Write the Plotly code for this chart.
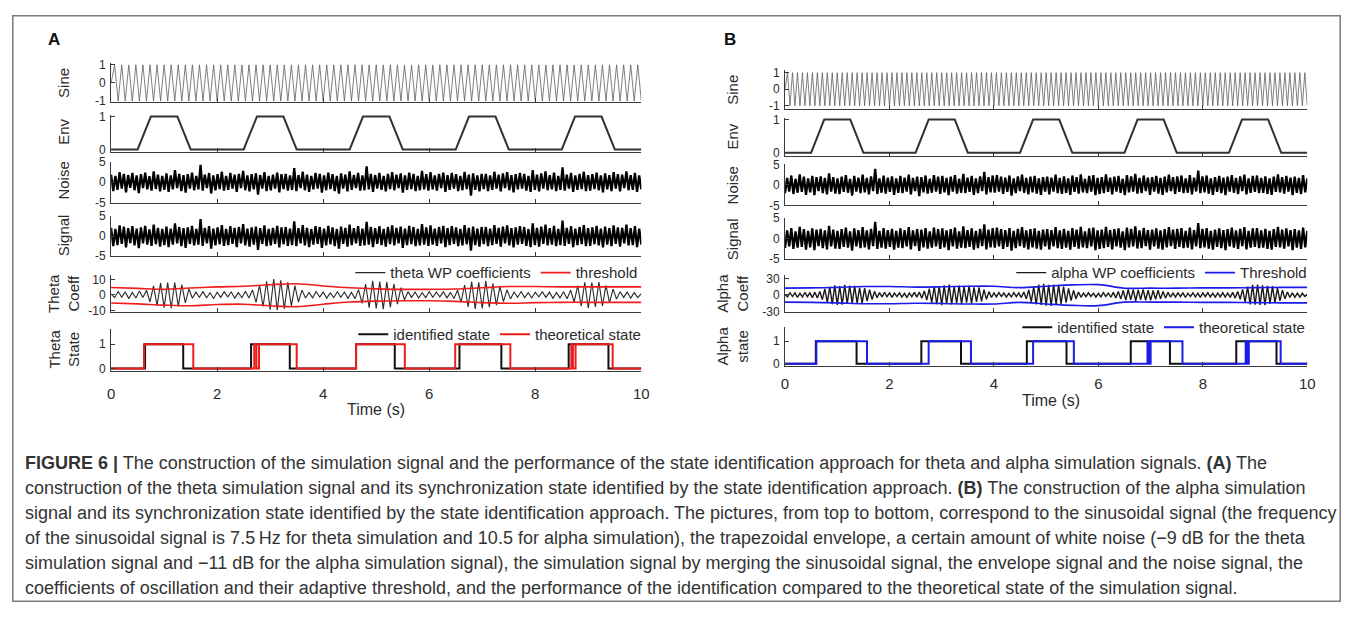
import numpy as np
import plotly.graph_objects as go

# page is 1357x617; the html body keeps an 8px margin, so the figure itself is smaller
PAGE_OFF = 8
W, H = 1341, 601

# ---- data ---------------------------------------------------------------

# sine carriers: successive peaks / troughs (A: 7.5 Hz, B: 10.5 Hz)
SINE_A = [0,
    1, -1, 1, -1, 1, -1, 1, -1, 1, -1, 1, -1, 1, -1, 1, -1, 1, -1, 1, -1,
    1, -1, 1, -1, 1, -1, 1, -1, 1, -1, 1, -1, 1, -1, 1, -1, 1, -1, 1, -1,
    1, -1, 1, -1, 1, -1, 1, -1, 1, -1, 1, -1, 1, -1, 1, -1, 1, -1, 1, -1,
    1, -1, 1, -1, 1, -1, 1, -1, 1, -1, 1, -1, 1, -1, 1, -1, 1, -1, 1, -1,
    1, -1, 1, -1, 1, -1, 1, -1, 1, -1, 1, -1, 1, -1, 1, -1, 1, -1, 1, -1,
    1, -1, 1, -1, 1, -1, 1, -1, 1, -1, 1, -1, 1, -1, 1, -1, 1, -1, 1, -1,
    1, -1, 1, -1, 1, -1, 1, -1, 1, -1, 1, -1, 1, -1, 1, -1, 1, -1, 1, -1,
    1, -1, 1, -1, 1, -1, 1, -1, 1, -1]
SINE_B = [0,
    1, -1, 1, -1, 1, -1, 1, -1, 1, -1, 1, -1, 1, -1, 1, -1, 1, -1, 1, -1,
    1, -1, 1, -1, 1, -1, 1, -1, 1, -1, 1, -1, 1, -1, 1, -1, 1, -1, 1, -1,
    1, -1, 1, -1, 1, -1, 1, -1, 1, -1, 1, -1, 1, -1, 1, -1, 1, -1, 1, -1,
    1, -1, 1, -1, 1, -1, 1, -1, 1, -1, 1, -1, 1, -1, 1, -1, 1, -1, 1, -1,
    1, -1, 1, -1, 1, -1, 1, -1, 1, -1, 1, -1, 1, -1, 1, -1, 1, -1, 1, -1,
    1, -1, 1, -1, 1, -1, 1, -1, 1, -1, 1, -1, 1, -1, 1, -1, 1, -1, 1, -1,
    1, -1, 1, -1, 1, -1, 1, -1, 1, -1, 1, -1, 1, -1, 1, -1, 1, -1, 1, -1,
    1, -1, 1, -1, 1, -1, 1, -1, 1, -1, 1, -1, 1, -1, 1, -1, 1, -1, 1, -1,
    1, -1, 1, -1, 1, -1, 1, -1, 1, -1, 1, -1, 1, -1, 1, -1, 1, -1, 1, -1,
    1, -1, 1, -1, 1, -1, 1, -1, 1, -1, 1, -1, 1, -1, 1, -1, 1, -1, 1, -1,
    1, -1, 1, -1, 1, -1, 1, -1, 1, -1]

# trapezoidal envelope (corner points)
ENV_T = [0, 0.5, 0.75, 1.25, 1.5, 2.5, 2.75, 3.25, 3.5, 4.5, 4.75, 5.25, 5.5,
         6.5, 6.75, 7.25, 7.5, 8.5, 8.75, 9.25, 9.5, 10]
ENV_V = [0, 0, 1, 1, 0, 0, 1, 1, 0, 0, 1, 1, 0, 0, 1, 1, 0, 0, 1, 1, 0, 0]

# white noise and merged signal, local extremes
NOISE_A = [
    1.8, -2.2, 1.5, -1.9, 2.4, -1.6, 2.0, -2.5, 1.7, -1.4, 2.2, -2.0, 1.6, -2.7, 1.9, -1.5, 2.3, -1.8, 1.4, -2.1, 2.6, -1.7, 1.8, -2.3, 1.5,
    -1.9, 2.1, -2.4, 1.6, -1.8, 2.9, -1.5, 2.0, -2.2, 1.7, -2.6, 1.9, -1.6, 2.3, -2.0, 1.5, -1.8, 4.2, -2.1, 1.8, -1.5, 2.2, -2.8, 1.6, -2.0,
    1.9, -1.7, 2.5, -2.1, 1.5, -1.9, 2.2, -1.6, 1.8, -2.4, 2.0, -1.5, 2.7, -2.0, 1.6, -2.3, 1.9, -1.8, 2.1, -3.1, 1.7, -1.6, 2.4, -2.2, 1.5,
    -2.0, 1.8, -1.6, 2.3, -2.5, 1.9, -1.7, 2.0, -2.1, 1.6, -1.9, 3.4, -2.2, 1.7, -1.5, 2.5, -2.0, 1.8, -2.4, 1.5, -1.8, 2.2, -1.6, 2.0, -2.6,
    1.6, -2.0, 2.3, -1.7, 1.9, -2.2, 1.5, -2.8, 2.1, -1.6, 1.8, -2.3, 2.6, -1.9, 1.7, -1.5, 2.2, -2.1, 1.6, -2.0, 3.8, -1.8, 2.0, -2.4, 1.7,
    -1.6, 2.2, -1.9, 1.5, -2.3, 2.0, -1.7, 2.4, -2.0, 1.8, -1.5, 2.1, -2.6, 1.6, -1.9, 2.3, -1.7, 2.0, -2.2, 1.5, -2.0, 2.7, -1.8, 1.9, -2.1,
    2.4, -1.8, 1.6, -2.1, 2.0, -1.5, 2.3, -2.4, 1.7, -1.9, 2.2, -1.6, 1.9, -2.2, 1.5, -2.0, 2.5, -1.7, 1.8, -3.3, 2.1, -1.9, 1.6, -2.3, 2.0,
    -1.7, 2.0, -2.2, 1.6, -1.9, 2.5, -1.6, 1.8, -2.3, 2.1, -1.5, 2.4, -2.0, 1.7, -2.5, 1.9, -1.8, 2.2, -1.6, 2.0, -2.1, 1.5, -2.4, 2.9, -1.9,
    1.8, -2.3, 2.1, -1.6, 2.6, -2.0, 1.7, -1.8, 2.3, -2.2, 1.5, -1.9, 3.6, -2.1, 1.8, -1.6, 2.2, -2.4, 1.6, -1.9, 2.0, -1.7, 2.5, -2.2, 1.7,
    -2.1, 1.9, -1.7, 2.3, -2.0, 1.6, -2.5, 2.1, -1.8, 1.7, -2.2, 2.4, -1.6, 1.9, -2.3, 1.8, -1.5, 2.6, -2.0, 1.7, -1.9, 2.2, -2.4, 1.6, -1.8]

NOISE_B = [
    -2.0, 1.7, -1.6, 2.3, -2.2, 1.5, -1.9, 2.6, -1.7, 2.0, -2.4, 1.6, -1.8, 2.2, -2.5, 1.9, -1.5, 2.1, -2.0, 1.7, -2.3, 2.8, -1.6, 1.9, -2.1,
    1.6, -2.2, 2.0, -1.7, 2.4, -1.9, 1.5, -2.6, 2.2, -1.6, 1.8, -2.0, 2.5, -1.8, 1.7, -2.3, 2.1, -1.5, 3.9, -2.2, 1.6, -1.9, 2.3, -2.1, 1.8,
    -1.7, 2.1, -2.4, 1.6, -1.9, 2.2, -2.0, 1.8, -1.6, 2.5, -2.3, 1.7, -1.5, 2.0, -2.7, 1.9, -1.8, 2.3, -2.1, 1.5, -1.9, 2.4, -1.6, 2.0, -2.2,
    2.2, -1.8, 1.7, -2.5, 2.0, -1.6, 2.4, -2.1, 1.5, -1.9, 2.7, -2.0, 1.8, -1.7, 2.2, -2.4, 1.6, -2.0, 2.1, -1.5, 3.2, -2.3, 1.9, -1.8, 2.3,
    -1.9, 2.4, -1.6, 2.0, -2.2, 1.8, -1.7, 2.3, -2.6, 1.6, -2.0, 2.1, -1.5, 2.5, -1.9, 1.7, -2.3, 2.0, -1.8, 2.2, -2.1, 1.6, -2.4, 1.9, -1.6,
    2.0, -2.3, 1.8, -1.6, 2.5, -2.0, 1.7, -2.2, 2.1, -1.9, 1.6, -2.4, 2.3, -1.7, 1.9, -2.1, 2.6, -1.8, 1.5, -2.0, 2.2, -1.6, 2.4, -2.5, 1.7,
    -2.2, 1.9, -2.0, 2.6, -1.7, 1.8, -2.3, 2.0, -1.6, 2.2, -1.9, 1.5, -2.5, 2.4, -1.8, 2.1, -1.6, 2.7, -2.1, 1.7, -2.0, 2.3, -1.5, 1.8, -2.4,
    1.9, -1.6, 2.2, -2.1, 1.7, -2.4, 2.0, -1.8, 2.5, -1.5, 1.9, -2.2, 2.1, -1.7, 2.3, -2.0, 1.6, -1.9, 2.4, -2.3, 1.8, -1.6, 3.5, -2.0, 2.1,
    -1.8, 2.3, -2.1, 1.6, -2.4, 1.9, -1.7, 2.2, -2.0, 1.8, -2.5, 2.0, -1.6, 2.4, -1.9, 1.7, -2.2, 2.1, -1.5, 2.5, -2.3, 1.6, -1.9, 2.2, -1.7,
    2.3, -2.0, 1.7, -1.9, 2.1, -2.2, 1.6, -2.4, 2.0, -1.7, 2.6, -1.8, 1.9, -2.1, 2.2, -1.6, 1.8, -2.5, 2.0, -1.9, 1.7, -2.2, 2.4, -1.8, 1.6]

SIGNAL_A = [
    2.1, -2.5, 1.8, -2.2, 2.7, -1.9, 2.4, -2.8, 2.0, -1.7, 2.5, -2.3, 1.9, -3.0, 2.2, -1.8, 2.6, -2.1, 1.7, -2.4, 2.9, -2.0, 2.1, -2.6, 1.8,
    -2.2, 2.4, -2.7, 1.9, -2.1, 3.2, -1.8, 2.3, -2.5, 2.0, -2.9, 2.2, -1.9, 2.6, -2.3, 1.8, -2.1, 4.3, -2.4, 2.1, -1.8, 2.5, -3.1, 1.9, -2.3,
    2.2, -2.0, 2.8, -2.4, 1.8, -2.2, 2.5, -1.9, 2.1, -2.7, 2.3, -1.8, 3.0, -2.3, 1.9, -2.6, 2.2, -2.1, 2.4, -3.4, 2.0, -1.9, 2.7, -2.5, 1.8,
    -2.3, 2.1, -1.9, 2.6, -2.8, 2.2, -2.0, 2.3, -2.4, 1.9, -2.2, 3.7, -2.5, 2.0, -1.8, 2.8, -2.3, 2.1, -2.7, 1.8, -2.1, 2.5, -1.9, 2.3, -2.9,
    1.9, -2.3, 2.6, -2.0, 2.2, -2.5, 1.8, -3.1, 2.4, -1.9, 2.1, -2.6, 2.9, -2.2, 2.0, -1.8, 2.5, -2.4, 1.9, -2.3, 3.6, -2.1, 2.3, -2.7, 2.0,
    -1.9, 2.5, -2.2, 1.8, -2.6, 2.3, -2.0, 2.7, -2.3, 2.1, -1.8, 2.4, -2.9, 1.9, -2.2, 2.6, -2.0, 2.3, -2.5, 1.8, -2.3, 3.0, -2.1, 2.2, -2.4,
    2.7, -2.1, 1.9, -2.4, 2.3, -1.8, 2.6, -2.7, 2.0, -2.2, 2.5, -1.9, 2.2, -2.5, 1.8, -2.3, 2.8, -2.0, 2.1, -3.6, 2.4, -2.2, 1.9, -2.6, 2.3,
    -2.0, 2.3, -2.5, 1.9, -2.2, 2.8, -1.9, 2.1, -2.6, 2.4, -1.8, 2.7, -2.3, 2.0, -2.8, 2.2, -2.1, 2.5, -1.9, 2.3, -2.4, 1.8, -2.7, 3.2, -2.2,
    2.1, -2.6, 2.4, -1.9, 2.9, -2.3, 2.0, -2.1, 2.6, -2.5, 1.8, -2.2, 3.9, -2.4, 2.1, -1.9, 2.5, -2.7, 1.9, -2.2, 2.3, -2.0, 2.8, -2.5, 2.0,
    -2.4, 2.2, -2.0, 2.6, -2.3, 1.9, -2.8, 2.4, -2.1, 2.0, -2.5, 2.7, -1.9, 2.2, -2.6, 2.1, -1.8, 2.9, -2.3, 2.0, -2.2, 2.5, -2.7, 1.9, -2.1]

SIGNAL_B = [
    -2.3, 2.0, -1.9, 2.6, -2.5, 1.8, -2.2, 2.9, -2.0, 2.3, -2.7, 1.9, -2.1, 2.5, -2.8, 2.2, -1.8, 2.4, -2.3, 2.0, -2.6, 3.1, -1.9, 2.2, -2.4,
    1.9, -2.5, 2.3, -2.0, 2.7, -2.2, 1.8, -2.9, 2.5, -1.9, 2.1, -2.3, 2.8, -2.1, 2.0, -2.6, 2.4, -1.8, 4.1, -2.5, 1.9, -2.2, 2.6, -2.4, 2.1,
    -2.0, 2.4, -2.7, 1.9, -2.2, 2.5, -2.3, 2.1, -1.9, 2.8, -2.6, 2.0, -1.8, 2.3, -3.0, 2.2, -2.1, 2.6, -2.4, 1.8, -2.2, 2.7, -1.9, 2.3, -2.5,
    2.5, -2.1, 2.0, -2.8, 2.3, -1.9, 2.7, -2.4, 1.8, -2.2, 3.0, -2.3, 2.1, -2.0, 2.5, -2.7, 1.9, -2.3, 2.4, -1.8, 3.5, -2.6, 2.2, -2.1, 2.6,
    -2.2, 2.7, -1.9, 2.3, -2.5, 2.1, -2.0, 2.6, -2.9, 1.9, -2.3, 2.4, -1.8, 2.8, -2.2, 2.0, -2.6, 2.3, -2.1, 2.5, -2.4, 1.9, -2.7, 2.2, -1.9,
    2.3, -2.6, 2.1, -1.9, 2.8, -2.3, 2.0, -2.5, 2.4, -2.2, 1.9, -2.7, 2.6, -2.0, 2.2, -2.4, 2.9, -2.1, 1.8, -2.3, 2.5, -1.9, 2.7, -2.8, 2.0,
    -2.5, 2.2, -2.3, 2.9, -2.0, 2.1, -2.6, 2.3, -1.9, 2.5, -2.2, 1.8, -2.8, 2.7, -2.1, 2.4, -1.9, 3.0, -2.4, 2.0, -2.3, 2.6, -1.8, 2.1, -2.7,
    2.2, -1.9, 2.5, -2.4, 2.0, -2.7, 2.3, -2.1, 2.8, -1.8, 2.2, -2.5, 2.4, -2.0, 2.6, -2.3, 1.9, -2.2, 2.7, -2.6, 2.1, -1.9, 3.8, -2.3, 2.4,
    -2.1, 2.6, -2.4, 1.9, -2.7, 2.2, -2.0, 2.5, -2.3, 2.1, -2.8, 2.3, -1.9, 2.7, -2.2, 2.0, -2.5, 2.4, -1.8, 2.8, -2.6, 1.9, -2.2, 2.5, -2.0,
    2.6, -2.3, 2.0, -2.2, 2.4, -2.5, 1.9, -2.7, 2.3, -2.0, 2.9, -2.1, 2.2, -2.4, 2.5, -1.9, 2.1, -2.8, 2.3, -2.2, 2.0, -2.5, 2.7, -2.1, 1.9]

# wavelet-packet coefficients (peak / trough sequence)
COEFF_A = [
    0.5, -1.8, 2.2, -1.5, 1.9, -2.4, 1.6, -2.0, 2.5, -1.7, 3.0,
    -4.5, 5.8, -6.9, 7.6, -8.2, 7.9, -8.5, 8.0, -7.4, 6.6, -5.2, 3.8,
    -2.2, 1.8, -1.5, 2.1, -1.9, 1.4, -2.3, 1.7, -1.6, 2.0, -1.3, 1.9, -2.1, 1.5, -1.8, 2.4, -2.0, 3.2,
    -4.8, 6.2, -7.5, 8.8, -9.6, 10.2, -9.8, 9.4, -8.9, 8.1, -7.2, 6.0, -4.6, 3.1,
    -2.0, 1.6, -1.9, 2.2, -1.4, 1.8, -2.1, 1.3, -1.7, 2.0, -1.5, 1.9, -2.2, 1.6, -2.4, 3.4,
    -5.5, 7.0, -8.3, 9.1, -8.8, 8.6, -9.2, 8.4, -7.9, 7.1, -6.0, 4.7, -3.2,
    2.1, -1.6, 1.9, -2.0, 1.4, -1.8, 2.2, -1.5, 1.7, -1.3, 2.0, -1.9, 1.5, -2.3, 3.0,
    -4.9, 6.4, -7.7, 8.6, -9.0, 8.2, -8.7, 9.1, -8.0, 7.4, -6.6, 5.5, -4.3, 3.3, -2.6,
    1.9, -1.5, 2.2, -1.8, 1.4, -2.0, 1.7, -1.3, 2.1, -1.6, 1.8, -2.2, 1.5, -1.9, 2.0, -2.5, 3.1,
    -4.6, 6.0, -7.3, 8.2, -8.6, 8.0, -7.8, 8.3, -7.1, 6.2, -5.0, 3.8, -2.7,
    2.0, -1.6, 1.8, -2.1, 1.5, -1.7, 0.8]

COEFF_B = [
    1.0, -3.5, 4.2, -2.8, 3.9, -4.4, 3.1, -3.7, 4.6, -3.0, 4.0, -4.8, 5.2, -5.5, 6.3,
    -8.5, 11.2, -13.6, 15.0, -16.8, 17.5, -18.2, 16.4, -17.9, 18.6, -16.1, 17.2, -15.4, 16.8, -14.9,
    13.5, -15.2, 12.8, -11.0, 9.6, -8.1, 6.7,
    -5.0, 4.3, -3.6, 4.8, -3.2, 3.9, -4.5, 3.4, -2.9, 4.1, -3.8, 3.0, -4.4, 3.6, -3.1, 4.7, -4.0, 5.3, -6.1, 7.4,
    -9.2, 11.8, -13.9, 15.6, -17.0, 16.2, -18.4, 17.7, -16.5, 18.9, -17.3, 16.0, -15.1, 17.4, -16.6, 15.3,
    -14.2, 16.9, -15.7, 13.8, -12.4, 14.1, -11.5, 9.8, -8.0, 6.2,
    -4.6, 3.8, -3.3, 4.4, -2.8, 3.5, -4.1, 3.2, -3.7, 4.2, -3.0, 3.9, -4.7, 5.6, -7.0,
    9.5, -12.6, 15.1, -17.4, 19.3, -18.0, 20.5, -19.6, 18.8, -20.1, 19.0, -17.7, 18.3, -16.2, 15.4,
    -13.9, 12.1, -10.4, 8.6, -6.9, 5.5,
    -4.2, 3.6, -3.1, 4.0, -2.7, 3.3, -3.9, 3.0, -3.5, 4.3, -2.9, 3.7, -4.1, 4.8, -5.6, 6.4,
    -7.5, 8.6, -9.4, 10.1, -9.0, 9.8, -10.5, 9.3, -8.7, 10.2, -9.6, 8.9, -9.9, 8.3, -7.8, 8.8, -7.1, 6.4, -5.6,
    4.8, -4.1, 3.5, -3.9, 4.4, -3.2, 3.8, -4.6, 3.3, -3.0, 4.1, -3.7, 3.4, -4.3, 3.9, -3.1, 4.5, -3.6, 3.2, -4.0,
    3.7, -3.4, 4.2, -3.8, 3.5, -4.4, 4.9, -5.7, 6.6, -7.8,
    10.2, -12.9, 15.3, -17.1, 18.5, -17.8, 19.2, -18.1, 17.6, -18.7, 16.9, -15.8, 16.4, -14.1, 12.6, -10.8, 8.9, -7.0,
    5.4, -4.5, 3.8, -4.2, 3.4, -3.9, 3.1, -2.6, 1.2]

# adaptive thresholds, every 0.5 s
THR_T = [0, 0.5, 1, 1.5, 2, 2.5, 3, 3.5, 4, 4.5, 5, 5.5, 6, 6.5, 7, 7.5, 8, 8.5, 9, 9.5, 10]
THR_A_UP = [4.8, 4.2, 3.6, 4.5, 5.2, 5.6, 6.6, 7.2, 5.8, 4.6, 3.9, 3.6, 3.6, 3.8, 4.6, 5.4, 5.4, 5.2, 5.2, 5.2, 5.2]
THR_A_LO = [-5.2, -5.8, -6.6, -7.0, -6.2, -6.0, -7.0, -7.6, -6.0, -4.6, -4.0, -3.8, -3.8, -4.2, -5.0, -5.4,
            -5.0, -4.8, -4.8, -4.8, -4.8]
THR_B_UP = [12.5, 13, 14, 15.5, 15.5, 14.5, 15, 16, 16, 13.5, 16, 18.5, 19, 12.5, 12.5, 12.5, 13, 13, 13.5, 14, 14]
THR_B_LO = [-13, -13.5, -14.5, -16, -16, -15, -15.5, -16.5, -16.5, -13.5, -16.5, -19, -19.5, -13, -13, -13,
            -13.5, -13.5, -14, -14.5, -14.5]

# synchronization states (switch times, value held until next time)
ID_A_T = [0, 0.64, 1.36, 2.64, 3.37, 4.62, 5.35, 6.57, 7.36, 8.63, 9.38, 10]
ID_A_V = [0, 1, 0, 1, 0, 1, 0, 1, 0, 1, 0, 0]
TH_A_T = [0, 0.62, 1.55, 2.70, 2.74, 2.79, 3.50, 4.62, 5.54, 6.49, 7.53, 8.68, 8.71, 8.76, 9.46, 10]
TH_A_V = [0, 1, 0, 1, 0, 1, 0, 1, 0, 1, 0, 1, 0, 1, 0, 0]
ID_B_T = [0, 0.59, 1.37, 2.61, 3.37, 4.63, 5.39, 6.62, 7.37, 8.64, 9.41, 10]
ID_B_V = [0, 1, 0, 1, 0, 1, 0, 1, 0, 1, 0, 0]
TH_B_T = [0, 0.60, 1.57, 2.75, 3.56, 4.75, 5.53, 6.94, 6.97, 7.00, 7.61, 8.82, 8.85, 8.88, 9.49, 10]
TH_B_V = [0, 1, 0, 1, 0, 1, 0, 1, 0, 1, 0, 1, 0, 1, 0, 0]

CAPTION = [
    "<b>FIGURE 6 |</b> The construction of the simulation signal and the performance of the state identification "
    "approach for theta and alpha simulation signals. <b>(A)</b> The",
    "construction of the theta simulation signal and its synchronization state identified by the state "
    "identification approach. <b>(B)</b> The construction of the alpha simulation",
    "signal and its synchronization state identified by the state identification approach. The pictures, from top "
    "to bottom, correspond to the sinusoidal signal (the frequency",
    "of the sinusoidal signal is 7.5\u2009Hz for theta simulation and 10.5 for alpha simulation), the trapezoidal "
    "envelope, a certain amount of white noise (\u22129 dB for the theta",
    "simulation signal and \u221211 dB for the alpha simulation signal), the simulation signal by merging the "
    "sinusoidal signal, the envelope signal and the noise signal, the",
    "coefficients of oscillation and their adaptive threshold, and the performance of the identification compared "
    "to the theoretical state of the simulation signal.",
]

# ---- layout helpers -----------------------------------------------------

FONT = "Liberation Sans, Arial, sans-serif"
TXT = "#2b2b2b"
AX = "#3a3a3a"


def fx(p):
    # page pixel -> paper fraction
    return (p - PAGE_OFF) / W


def fy(p):
    return 1 - (p - PAGE_OFF) / H


def suffix(i):
    return "" if i == 1 else str(i)


# per panel: x pixel span, row pixel spans, y ranges, y ticks, titles (page pixels)
panels = [
    dict(name="A", x=(108, 643), letter=(50, 33), xlab=(375, 412), standoff=9, title_x=60,
         rows=[(57, 97), (110, 148), (158, 200), (214, 255), (274, 312), (330, 372)],
         ranges=[[-1.05, 1.11], [-0.07, 1.06], [-5, 5], [-5, 5], [-11, 13], [-0.08, 1.6]],
         ticks=[[-1, 0, 1], [0, 1], [-5, 0, 5], [-5, 0, 5], [-10, 0, 10], [0, 1]],
         titles=["Sine", "Env", "Noise", "Signal", "Theta<br>Coeff", "Theta<br>State"],
         title_y=[78, 128, 178, 234, 293, 350]),
    dict(name="B", x=(788, 1315), letter=(732, 33), xlab=(1056, 403), standoff=4, title_x=735,
         rows=[(64, 104), (113, 152), (161, 203), (216, 258), (274, 312), (327, 367)],
         ranges=[[-1.18, 1.18], [-0.09, 1.06], [-5, 5], [-5, 5], [-31, 37], [-0.087, 1.65]],
         ticks=[[-1, 0, 1], [0, 1], [-5, 0, 5], [-5, 0, 5], [-30, 0, 30], [0, 1]],
         titles=["Sine", "Env", "Noise", "Signal", "Alpha<br>Coeff", "Alpha<br>state"],
         title_y=[84, 132, 182, 237, 293, 347]),
]

fig = go.Figure()
layout = {}
annotations = []

for p_i, p in enumerate(panels):
    for r in range(6):
        i = p_i * 6 + r + 1
        top, bot = p["rows"][r]
        layout["xaxis" + suffix(i)] = dict(
            domain=[fx(p["x"][0]), fx(p["x"][1])], range=[0, 10], anchor="y" + suffix(i),
            tickvals=[0, 2, 4, 6, 8, 10], ticks="inside", ticklen=4, tickcolor=AX,
            showticklabels=(r == 5), ticklabelstandoff=p["standoff"],
            tickfont=dict(family=FONT, size=15, color=TXT),
            showline=True, linecolor=AX, linewidth=1, showgrid=False, zeroline=False)
        layout["yaxis" + suffix(i)] = dict(
            domain=[fy(bot), fy(top)], range=p["ranges"][r], anchor="x" + suffix(i),
            tickvals=p["ticks"][r], ticktext=[str(v) for v in p["ticks"][r]],
            ticks="inside", ticklen=4, tickcolor=AX,
            tickfont=dict(family=FONT, size=12, color=TXT), ticklabelstandoff=2,
            showline=True, linecolor=AX, linewidth=1, showgrid=False, zeroline=False)
        annotations.append(dict(
            x=fx(p["title_x"]), y=fy(p["title_y"][r]), xref="paper", yref="paper",
            text=p["titles"][r], textangle=-90, showarrow=False,
            font=dict(family=FONT, size=15, color=TXT), xanchor="center", yanchor="middle"))
    annotations.append(dict(
        x=fx(p["letter"][0]), y=fy(p["letter"][1]), xref="paper", yref="paper",
        text="<b>%s</b>" % p["name"], showarrow=False,
        font=dict(family=FONT, size=17, color="#111"), xanchor="center", yanchor="middle"))
    annotations.append(dict(
        x=fx(p["xlab"][0]), y=fy(p["xlab"][1]), xref="paper", yref="paper",
        text="Time (s)", showarrow=False,
        font=dict(family=FONT, size=16, color=TXT), xanchor="center", yanchor="middle"))


def add(i, x, y, **kw):
    fig.add_trace(go.Scatter(x=x, y=y, mode="lines", xaxis="x" + suffix(i), yaxis="y" + suffix(i),
                             showlegend=kw.pop("showlegend", False), **kw))


def tgrid(vals):
    # evenly spaced sample times over the 10 s record
    return np.linspace(0, 10, len(vals))


# panel A
add(1, tgrid(SINE_A), SINE_A, line=dict(color="#5e5e5e", width=0.8))
add(2, ENV_T, ENV_V, line=dict(color="#333", width=2))
add(3, tgrid(NOISE_A), NOISE_A, line=dict(color="#000", width=2.3))
add(4, tgrid(SIGNAL_A), SIGNAL_A, line=dict(color="#000", width=2.3))
add(5, tgrid(COEFF_A), COEFF_A, line=dict(color="#2a2a2a", width=1.1),
    name="theta WP coefficients", showlegend=True, legend="legend")
add(5, THR_T, THR_A_UP, line=dict(color="#ee1c1c", width=1.6, shape="spline"),
    name="threshold", showlegend=True, legend="legend")
add(5, THR_T, THR_A_LO, line=dict(color="#ee1c1c", width=1.6, shape="spline"))
add(6, ID_A_T, ID_A_V, line=dict(color="#111", width=2, shape="hv"),
    name="identified state", showlegend=True, legend="legend2")
add(6, TH_A_T, TH_A_V, line=dict(color="#ee1c1c", width=2, shape="hv"),
    name="theoretical state", showlegend=True, legend="legend2")

# panel B
add(7, tgrid(SINE_B), SINE_B, line=dict(color="#5e5e5e", width=0.8))
add(8, ENV_T, ENV_V, line=dict(color="#333", width=2))
add(9, tgrid(NOISE_B), NOISE_B, line=dict(color="#000", width=2.3))
add(10, tgrid(SIGNAL_B), SIGNAL_B, line=dict(color="#000", width=2.3))
add(11, tgrid(COEFF_B), COEFF_B, line=dict(color="#1a1a1a", width=1.4),
    name="alpha WP coefficients", showlegend=True, legend="legend3")
add(11, THR_T, THR_B_UP, line=dict(color="#1c1ce8", width=1.6, shape="spline"),
    name="Threshold", showlegend=True, legend="legend3")
add(11, THR_T, THR_B_LO, line=dict(color="#1c1ce8", width=1.6, shape="spline"))
add(12, ID_B_T, ID_B_V, line=dict(color="#111", width=2, shape="hv"),
    name="identified state", showlegend=True, legend="legend4")
add(12, TH_B_T, TH_B_V, line=dict(color="#1c1ce8", width=2, shape="hv"),
    name="theoretical state", showlegend=True, legend="legend4")


def legend_at(x_right, y_mid):
    return dict(orientation="h", x=fx(x_right), y=fy(y_mid), xanchor="right", yanchor="middle",
                bgcolor="rgba(0,0,0,0)", borderwidth=0, font=dict(family=FONT, size=15, color=TXT),
                tracegroupgap=0, itemclick=False)


layout["legend"] = legend_at(645, 272)
layout["legend2"] = legend_at(648, 335)
layout["legend3"] = legend_at(1320, 272)
layout["legend4"] = legend_at(1318, 328)

for k, line in enumerate(CAPTION):
    annotations.append(dict(
        x=fx(19), y=fy(467 + 25.5 * k), xref="paper", yref="paper", text=line, showarrow=False,
        font=dict(family=FONT, size=18, color="#333"), xanchor="left", yanchor="middle"))

fig.update_layout(
    width=W, height=H, margin=dict(l=0, r=0, t=0, b=0),
    paper_bgcolor="white", plot_bgcolor="white",
    annotations=annotations,
    shapes=[dict(type="rect", xref="paper", yref="paper", x0=0.0006, x1=0.9994, y0=0.0012, y1=0.9988,
                 line=dict(color="#7a7a7a", width=1.5), layer="below")],
    **layout)

fig.write_html("out.html")
